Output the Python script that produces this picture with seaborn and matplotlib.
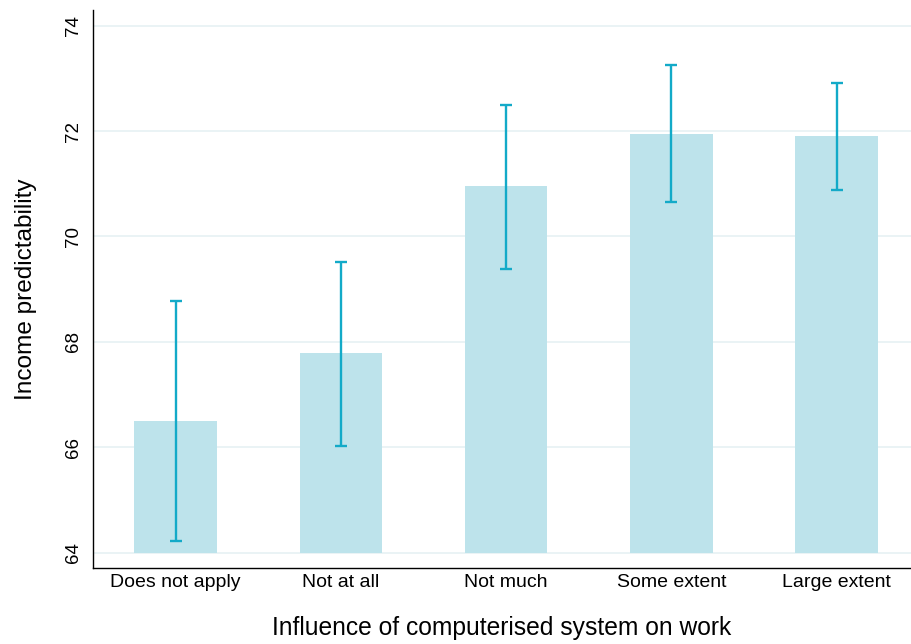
import numpy as np
import pandas as pd
import matplotlib
matplotlib.use("Agg")
import matplotlib.pyplot as plt
import seaborn as sns

# values
categories = ["Does not apply", "Not at all", "Not much", "Some extent", "Large extent"]
means = [66.50, 67.79, 70.95, 71.95, 71.90]
ci_low = [64.23, 66.03, 69.39, 70.65, 70.88]
ci_high = [68.77, 69.52, 72.50, 73.25, 72.91]
base = 64

bar_color = "#bde3eb"
err_color = "#13aac8"
grid_color = "#e8f2f4"

sns.set_style("white")
plt.rcParams["font.family"] = ["Liberation Sans", "DejaVu Sans"]
plt.rcParams["text.color"] = "black"
plt.rcParams["axes.labelcolor"] = "black"
plt.rcParams["xtick.color"] = "black"
plt.rcParams["ytick.color"] = "black"

df = pd.DataFrame({"category": categories, "mean": means})

fig = plt.figure(figsize=(9.11, 6.44), dpi=100)
ax = fig.add_axes([0.102, 0.118, 0.898, 0.866])

sns.barplot(data=df, x="category", y="mean", color=bar_color, saturation=1,
            width=0.5, errorbar=None, ax=ax, zorder=2)

# bars start at the base value, not at zero
for p in ax.patches:
    p.set_y(base)
    p.set_height(p.get_height() - base)
    p.set_edgecolor("none")

centers = [p.get_x() + p.get_width() / 2 for p in ax.patches]
lo = np.array(means) - np.array(ci_low)
hi = np.array(ci_high) - np.array(means)
ax.errorbar(centers, means, yerr=[lo, hi], fmt="none", ecolor=err_color,
            elinewidth=1.7, capsize=4, capthick=1.7, zorder=3)

ax.set_ylim(63.71, 74.29)
ax.set_xlim(-0.5, 4.45)
ax.set_yticks([64, 66, 68, 70, 72, 74])
ax.yaxis.grid(True, color=grid_color, linewidth=1.3, zorder=0)
ax.set_axisbelow(True)

for s in ["top", "right"]:
    ax.spines[s].set_visible(False)
for s in ["left", "bottom"]:
    ax.spines[s].set_color("black")
    ax.spines[s].set_linewidth(1.0)

ax.tick_params(axis="both", length=0, colors="black")
ax.tick_params(axis="y", labelsize=13.5, pad=8)
ax.tick_params(axis="x", labelsize=14, pad=4)
for lab in ax.get_yticklabels():
    lab.set_rotation(90)
    lab.set_va("center")

ax.set_xlabel("Influence of computerised system on work", fontsize=17.7,
              labelpad=18, color="black")
ax.set_ylabel("Income predictability", fontsize=17.6, labelpad=20, color="black")

fig.savefig("out.png", dpi=100)
